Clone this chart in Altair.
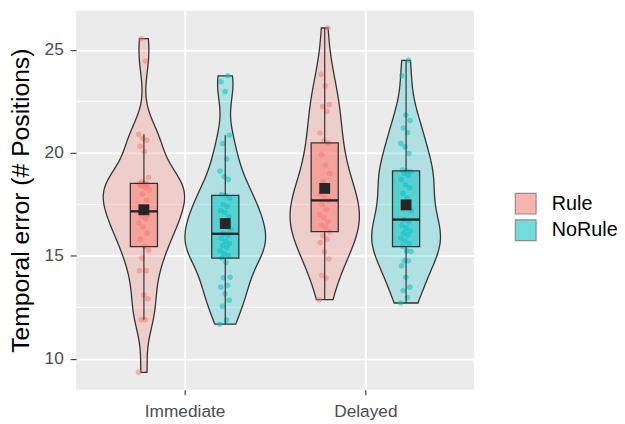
import altair as alt
import numpy as np
import pandas as pd

times = ["Immediate", "Delayed"]
conds = ["Rule", "NoRule"]
colors = ["#F8766D", "#00BFC4"]
y_title = "Temporal error (# Positions)"
y_ticks = [10, 15, 20, 25]
y_minor = [12.5, 17.5, 22.5]

imm_rule = [9.34, 11.9, 11.9, 12.92, 13.1, 14.28, 14.28, 14.89, 15.27,
            15.45,
            15.8, 16.1, 16.4, 16.6, 16.8, 16.9, 17.0, 17.1,
            17.16,
            17.7, 18.0, 18.2, 18.3, 18.4, 18.45, 18.5, 18.5,
            18.52,
            18.6, 18.8, 20.05, 20.32, 20.61, 20.69, 20.9, 24.46, 25.54]
imm_norule = [11.68, 11.88, 12.55, 12.84, 13.16, 13.48, 13.56, 13.93, 13.96, 14.68,
              14.89,
              15.0, 15.1, 15.24, 15.4, 15.5, 15.6, 15.7, 15.85, 16.0,
              16.07,
              16.3, 16.5, 16.7, 16.9, 17.1, 17.2, 17.4, 17.49, 17.8,
              17.93,
              17.98, 18.7, 18.85, 19.12, 19.7, 20.45, 20.85, 22.97, 23.45, 23.74]
del_rule = [12.87, 13.93, 14.04, 14.84, 15.2, 15.64, 15.8, 15.96,
            16.17,
            16.36, 16.5, 16.65, 16.84, 17.0, 17.26, 17.5,
            17.69,
            17.8, 18.0, 18.3, 18.6, 19.0, 19.4, 19.9,
            20.48,
            20.58, 20.96, 22.02, 22.25, 22.34, 23.25, 23.81, 26.06]
del_norule = [12.71, 12.97, 13.32, 13.48, 13.96, 14.52, 14.76, 14.76, 15.21, 15.24,
              15.45,
              15.6, 15.72, 15.85, 16.0, 16.1, 16.2, 16.35, 16.5, 16.65,
              16.76,
              17.2, 17.8, 18.04, 18.3, 18.45, 18.7, 18.9, 19.0, 19.08,
              19.12,
              19.17, 19.97, 20.29, 20.45, 20.98, 21.2, 21.57, 21.84, 23.74, 24.49]

groups = [(times[0], conds[0], imm_rule), (times[0], conds[1], imm_norule),
          (times[1], conds[0], del_rule), (times[1], conds[1], del_norule)]

rows = []
for t, c, vals in groups:
    for i, v in enumerate(vals):
        rows.append({"time": t, "cond": c, "value": v, "idx": i})
df = pd.DataFrame(rows)

DODGE = 0.225
BOXHALF = 0.075
CTR = (f"(datum.time == '{times[0]}' ? 1 : 2) + "
       f"(datum.cond == '{conds[0]}' ? {-DODGE} : {DODGE})")


def nrd0(v):
    a = np.asarray(v, float)
    sd = a.std(ddof=1)
    q75, q25 = np.percentile(a, [75, 25])
    return 0.9 * min(sd, (q75 - q25) / 1.34) * len(a) ** -0.2


def kde_max(v, bw):
    a = np.asarray(v, float)
    g = np.linspace(a.min(), a.max(), 512)
    d = np.exp(-0.5 * ((g[:, None] - a[None, :]) / bw) ** 2).sum(1) / (len(a) * bw * np.sqrt(2 * np.pi))
    return d.max()


gmax = max(kde_max(v, nrd0(v)) for _, _, v in groups)
K = DODGE / gmax

FONT = "Liberation Sans"
xscale = alt.Scale(domain=[0.4, 2.6], nice=False, zero=False)
yscale = alt.Scale(domain=[8.5, 26.9], nice=False, zero=False)
label_expr = f"datum.value == 1 ? '{times[0]}' : '{times[1]}'"
X_AX = alt.Axis(values=[1, 2], labelExpr=label_expr, grid=True, gridColor="white",
                gridWidth=2, domain=False, tickColor="#333333", tickSize=5,
                tickWidth=1.1, labelPadding=8, labelFontSize=17.5, labelColor="#4D4D4D",
                labelFont=FONT)
Y_AX = alt.Axis(values=y_ticks, grid=True, gridColor="white", gridWidth=2, domain=False,
                tickColor="#333333", tickSize=6, tickWidth=1.1, labelPadding=7,
                labelFontSize=17.5, labelColor="#4D4D4D", labelFont=FONT,
                titleFontSize=25, titleFontWeight="normal", titleColor="#000000",
                titleFont=FONT, titlePadding=11)
fill_scale = alt.Scale(domain=conds, range=colors)
LEG = alt.Legend(title=None, orient="none", legendX=444, legendY=184,
                 symbolType="square", symbolSize=441, symbolOpacity=0.55,
                 symbolStrokeColor="#333333", symbolStrokeWidth=1.2,
                 labelFontSize=20, labelFont=FONT, labelColor="#000000",
                 labelOffset=15, rowPadding=0, padding=0)
FILL = alt.Fill("cond:N", scale=fill_scale, legend=LEG)


def X(f):
    return alt.X(f, scale=xscale, axis=X_AX, title=None)


def Y(f):
    return alt.Y(f, scale=yscale, axis=Y_AX, title=y_title)


minor = alt.Chart(pd.DataFrame({"m": y_minor})).mark_rule(color="white", strokeWidth=1).encode(
    y=Y("m:Q"))

layers = [minor]
for t, c, vals in groups:
    bw = nrd0(vals)
    v = (alt.Chart(df)
         .transform_filter(f"datum.time == '{t}' && datum.cond == '{c}'")
         .transform_density("value", as_=["value", "density"], bandwidth=bw, steps=200,
                            groupby=["time", "cond"])
         .transform_calculate(ctr=CTR)
         .transform_calculate(xl=f"datum.ctr - datum.density * {K}",
                              xr=f"datum.ctr + datum.density * {K}")
         .mark_area(orient="horizontal", fillOpacity=0.25, stroke="#333333", strokeWidth=1.3)
         .encode(y=Y("value:Q"), x=X("xl:Q"), x2="xr:Q", fill=FILL))
    layers.append(v)

pts = (alt.Chart(df)
       .transform_calculate(ctr=CTR)
       .transform_calculate(px="datum.ctr + ((datum.idx * 0.618034) % 1 - 0.5) * 0.06")
       .mark_circle(size=32, fillOpacity=0.5)
       .encode(x=X("px:Q"), y=Y("value:Q"), fill=FILL))
layers.append(pts)

box = (alt.Chart(df)
       .transform_joinaggregate(bq1="q1(value)", bq3="q3(value)", groupby=["time", "cond"])
       .transform_calculate(vin="datum.value >= datum.bq1 - 1.5*(datum.bq3-datum.bq1) && "
                                "datum.value <= datum.bq3 + 1.5*(datum.bq3-datum.bq1) ? datum.value : null")
       .transform_aggregate(q1="q1(value)", med="median(value)", q3="q3(value)",
                            mean="mean(value)", wlo="min(vin)", whi="max(vin)",
                            groupby=["time", "cond"])
       .transform_calculate(ctr=CTR)
       .transform_calculate(bl=f"datum.ctr - {BOXHALF}", br=f"datum.ctr + {BOXHALF}"))

wh_lo = box.mark_rule(color="#333333", strokeWidth=1.2).encode(x=X("ctr:Q"), y=Y("wlo:Q"), y2="q1:Q")
wh_hi = box.mark_rule(color="#333333", strokeWidth=1.2).encode(x=X("ctr:Q"), y=Y("q3:Q"), y2="whi:Q")
rect = box.mark_rect(fillOpacity=0.5, stroke="#333333", strokeWidth=1.3).encode(
    x=X("bl:Q"), x2="br:Q", y=Y("q1:Q"), y2="q3:Q", fill=FILL)
med = box.mark_rule(color="#262626", strokeWidth=2.4).encode(x=X("bl:Q"), x2="br:Q", y=Y("med:Q"))
mean = box.mark_square(size=121, color="#262626", opacity=1).encode(x=X("ctr:Q"), y=Y("mean:Q"))

layers += [wh_lo, wh_hi, rect, med, mean]

chart = (alt.layer(*layers)
         .properties(width=403, height=384,
                     autosize=alt.AutoSizeParams(type="none"),
                     padding={"left": 69, "top": 0, "right": 145, "bottom": 32})
         .configure(font=FONT, view=alt.ViewConfig(fill="#EBEBEB", strokeWidth=0)))

chart.save("out.html", embed_options={"renderer": "svg", "actions": False})
